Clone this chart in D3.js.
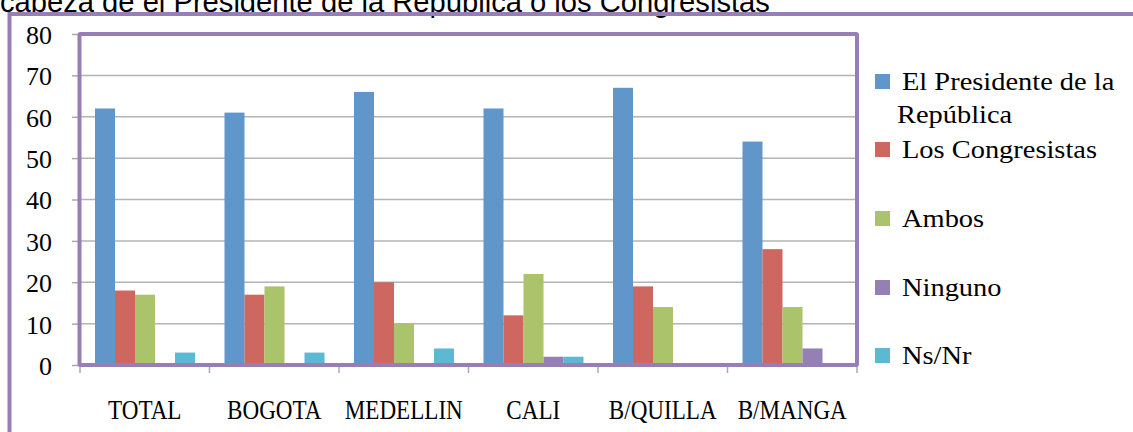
<!DOCTYPE html>
<html><head><meta charset="utf-8">
<script src="https://cdn.jsdelivr.net/npm/d3@7"></script>
<style>body{margin:0;background:#fff;} svg{display:block;} .srf{font-family:"Liberation Serif","DejaVu Serif",serif !important;}</style>
</head><body>
<svg id="c" width="1133" height="432"></svg>
<script>
const title = "cabeza de el Presidente de la República o los Congresistas";
const categories = ["TOTAL","BOGOTA","MEDELLIN","CALI","B/QUILLA","B/MANGA"];
const seriesNames = ["El Presidente de la República","Los Congresistas","Ambos","Ninguno","Ns/Nr"];
const presidente = [62,61,66,62,67,54];
const congresistas = [18,17,20,12,19,28];
const ambos = [17,19,10,22,14,14];
const ninguno = [0,0,0,2,0,4];
const nsnr = [3,3,4,2,0,0];
const yTicks = [0,10,20,30,40,50,60,70,80];
const colors = ["#6096c9","#cd675f","#abc46b","#9580b6","#5bbad1"];

const values = [presidente, congresistas, ambos, ninguno, nsnr];
const svg = d3.select("#c");
const frameColor = "#977fb6";

// title (cut at top)
const t = svg.append("text").attr("x", 0).attr("y", 12)
  .style("font-family", "'Liberation Sans', Arial, sans-serif").attr("font-size", 24)
  .attr("fill", "#000").text(title);
const tw = t.node().getComputedTextLength();
t.attr("font-size", 24 * 770 / tw);

// outer frame
svg.append("path").attr("d", "M9.5,433 L9.5,14 L1140,14")
  .attr("fill", "none").attr("stroke", frameColor).attr("stroke-width", 4);

const x = d3.scaleBand().domain(categories).range([80, 857]).paddingInner(0).paddingOuter(0);
const x1 = d3.scaleBand().domain(seriesNames).range([15, x.bandwidth() - 14.5]).paddingInner(0).paddingOuter(0);
const y = d3.scaleLinear().domain([0, 80]).range([365, 34]);

function fitWidth(sel, factor) {
  sel.each(function() {
    const w = this.getComputedTextLength();
    d3.select(this).attr("textLength", w * factor).attr("lengthAdjust", "spacingAndGlyphs");
  });
}

// gridlines
svg.append("g").selectAll("line").data(yTicks.filter(d => d > 0)).join("line")
  .attr("x1", 80).attr("x2", 857).attr("y1", d => y(d)).attr("y2", d => y(d))
  .attr("stroke", "#b4b4b4").attr("stroke-width", 1.5);

// y axis
const yAxis = svg.append("g").attr("transform", "translate(80,0)")
  .call(d3.axisLeft(y).tickValues(yTicks).tickSize(8).tickPadding(20));
yAxis.attr("font-family", null);
yAxis.select(".domain").remove();
yAxis.selectAll(".tick line").attr("stroke", "#aaa").attr("stroke-width", 1.5);
yAxis.selectAll(".tick text").attr("class", "srf").attr("font-size", 26).attr("fill", "#000")
  .attr("dy", "0.36em");

// x axis
const xAxis = svg.append("g").attr("transform", "translate(0,365)")
  .call(d3.axisBottom(x).tickSize(0).tickPadding(34));
xAxis.attr("font-family", null);
xAxis.select(".domain").remove();
const xt = xAxis.selectAll(".tick text").attr("class", "srf").attr("font-size", 27.5).attr("fill", "#000");
fitWidth(xt, 0.84);
svg.append("g").selectAll("line").data(d3.range(categories.length + 1)).join("line")
  .attr("x1", i => 80 + i * x.bandwidth()).attr("x2", i => 80 + i * x.bandwidth())
  .attr("y1", 365).attr("y2", 373).attr("stroke", "#aaa").attr("stroke-width", 1.5);

// bars
const groups = svg.append("g").selectAll("g").data(categories).join("g")
  .attr("transform", c => `translate(${x(c)},0)`);
groups.selectAll("rect").data((c, ci) => seriesNames.map((s, si) => ({s, si, v: values[si][ci]})))
  .join("rect")
  .attr("x", d => x1(d.s)).attr("width", x1.bandwidth())
  .attr("y", d => y(d.v)).attr("height", d => y(0) - y(d.v))
  .attr("fill", d => colors[d.si]);

// plot frame
svg.append("rect").attr("x", 79.5).attr("y", 34).attr("width", 777.5).attr("height", 331)
  .attr("fill", "none").attr("stroke", frameColor).attr("stroke-width", 4).attr("rx", 1);

// legend
const legY = [74, 142, 211, 280, 348];
const leg = svg.append("g");
seriesNames.forEach((s, i) => {
  leg.append("rect").attr("x", 875).attr("y", legY[i]).attr("width", 15).attr("height", 15).attr("fill", colors[i]);
  const lines = i === 0 ? [["El Presidente de la", 902, 16], ["República", 897, 49]] : [[s, 902, 16]];
  lines.forEach(([txt, lx, dy]) => {
    const tx = leg.append("text").attr("class", "srf").attr("font-size", 24.5).attr("fill", "#000")
      .attr("x", lx).attr("y", legY[i] + dy).text(txt);
    fitWidth(tx, 1.16);
  });
});
</script>
</body></html>
